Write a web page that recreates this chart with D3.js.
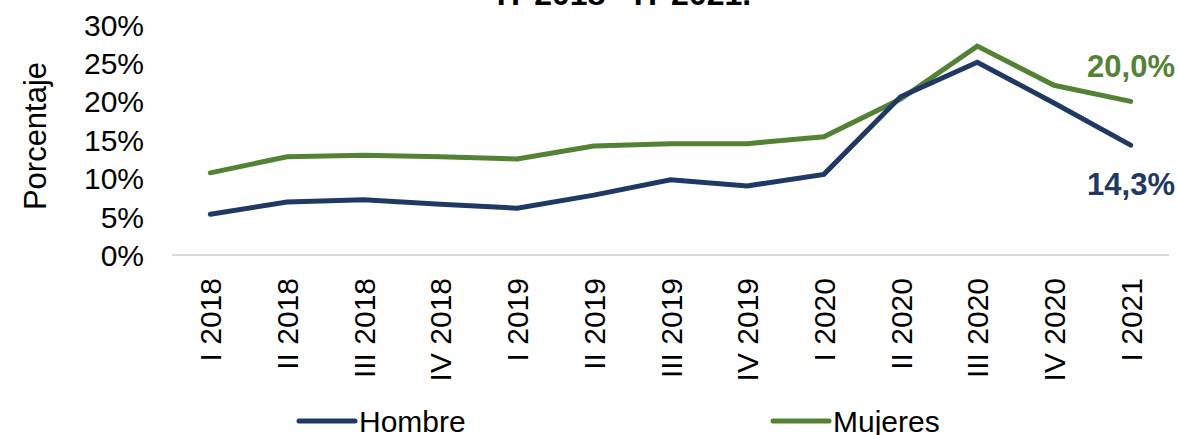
<!DOCTYPE html>
<html>
<head>
<meta charset="utf-8">
<script src="https://cdnjs.cloudflare.com/ajax/libs/d3/7.8.5/d3.min.js"></script>
<style>
  body { margin: 0; background: #fff; }
  svg { display: block; font-family: "Liberation Sans", Arial, sans-serif; }
</style>
</head>
<body>
<div id="chart"></div>
<script>
// data
var quarters = ["I 2018", "II 2018", "III 2018", "IV 2018",
                "I 2019", "II 2019", "III 2019", "IV 2019",
                "I 2020", "II 2020", "III 2020", "IV 2020", "I 2021"];
var hombre  = [5.3, 6.9, 7.2, 6.6, 6.1, 7.8, 9.8, 9.0, 10.5, 20.6, 25.1, 19.8, 14.3];
var mujeres = [10.7, 12.8, 13.0, 12.8, 12.5, 14.2, 14.5, 14.5, 15.4, 20.3, 27.2, 22.1, 20.0];
var yTicks  = [0, 5, 10, 15, 20, 25, 30];
var seriesNames = ["Hombre", "Mujeres"];

window.colors = {"Hombre": "#203864", "Mujeres": "#548235"};
window.svgW = 1178;
window.svgH = 435;

function addSVG(){
    window.svg = d3.select("#chart")
        .append("svg")
        .attr("width", window.svgW)
        .attr("height", window.svgH);
}

function makeScales(){
    window.x = d3.scaleBand().domain(quarters).range([172, 1169]).padding(0);
    window.y = d3.scaleLinear().domain([0, 30]).range([255, 24.6]);
}

function cx(q){
    return window.x(q) + window.x.bandwidth()/2;
}

function drawAxes(){
    var svg = window.svg;

    //baseline gridline at 0%
    svg.append("line")
        .attr("x1", window.x.range()[0]).attr("x2", window.x.range()[1])
        .attr("y1", window.y(0)).attr("y2", window.y(0))
        .attr("stroke", "#d9d9d9")
        .attr("stroke-width", 2);

    //y axis labels
    var yAxis = d3.axisLeft(window.y)
        .tickValues(yTicks)
        .tickSize(0)
        .tickPadding(0)
        .tickFormat(function(d){ return d + "%"; });
    var gy = svg.append("g")
        .attr("transform", "translate(144,0)")
        .call(yAxis);
    gy.select(".domain").remove();
    gy.selectAll("text")
        .attr("font-size", 30)
        .attr("font-family", "Liberation Sans, Arial, sans-serif")
        .attr("fill", "#000")
        .attr("dy", "0.35em");

    //x axis labels, rotated
    var xAxis = d3.axisBottom(window.x).tickSize(0);
    var gx = svg.append("g")
        .attr("transform", "translate(0,0)")
        .call(xAxis);
    gx.select(".domain").remove();
    gx.selectAll(".tick")
        .attr("transform", function(d){ return "translate(" + cx(d) + ",0)"; });
    gx.selectAll("text")
        .attr("font-size", 30)
        .attr("font-family", "Liberation Sans, Arial, sans-serif")
        .attr("fill", "#000")
        .attr("text-anchor", "end")
        .attr("y", 0).attr("dy", 0)
        .attr("transform", "translate(11,278) rotate(-90)");

    //y title
    svg.append("text")
        .attr("transform", "translate(46,136) rotate(-90)")
        .attr("text-anchor", "middle")
        .attr("font-size", 31)
        .text("Porcentaje");

    //chart title, mostly cropped off the top
    svg.append("text")
        .attr("x", 624).attr("y", 5)
        .attr("text-anchor", "middle")
        .attr("font-size", 32)
        .attr("font-weight", "bold")
        .text("IT 2018 - IT 2021.");
}

function drawLines(){
    var line = d3.line()
        .x(function(d){ return cx(d.q); })
        .y(function(d){ return window.y(d.v); });

    var data = [
        {name: "Mujeres", values: mujeres},
        {name: "Hombre", values: hombre}
    ];

    data.forEach(function(s){
        var pts = s.values.map(function(v, i){ return {q: quarters[i], v: v}; });
        window.svg.append("path")
            .datum(pts)
            .attr("d", line)
            .attr("fill", "none")
            .attr("stroke", window.colors[s.name])
            .attr("stroke-width", 5)
            .attr("stroke-linejoin", "miter")
            .attr("stroke-linecap", "round");
    });

    //end labels
    var last = quarters.length - 1;
    window.svg.append("text")
        .attr("x", 1175).attr("y", 77)
        .attr("text-anchor", "end")
        .attr("font-size", 31)
        .attr("font-weight", "bold")
        .attr("fill", window.colors["Mujeres"])
        .text(d3.format(".1f")(mujeres[last]).replace(".", ",") + "%");
    window.svg.append("text")
        .attr("x", 1175).attr("y", 195)
        .attr("text-anchor", "end")
        .attr("font-size", 31)
        .attr("font-weight", "bold")
        .attr("fill", window.colors["Hombre"])
        .text(d3.format(".1f")(hombre[last]).replace(".", ",") + "%");
}

function drawLegend(){
    var starts = [299, 773];
    seriesNames.forEach(function(name, i){
        var g = window.svg.append("g").attr("transform", "translate(" + starts[i] + ",421)");
        g.append("line")
            .attr("x1", 0).attr("x2", 56)
            .attr("y1", 0).attr("y2", 0)
            .attr("stroke", window.colors[name])
            .attr("stroke-width", 5)
            .attr("stroke-linecap", "round");
        g.append("text")
            .attr("x", 60).attr("y", 11)
            .attr("font-size", 30)
            .text(name);
    });
}

addSVG();
makeScales();
drawAxes();
drawLines();
drawLegend();
</script>
</body>
</html>
